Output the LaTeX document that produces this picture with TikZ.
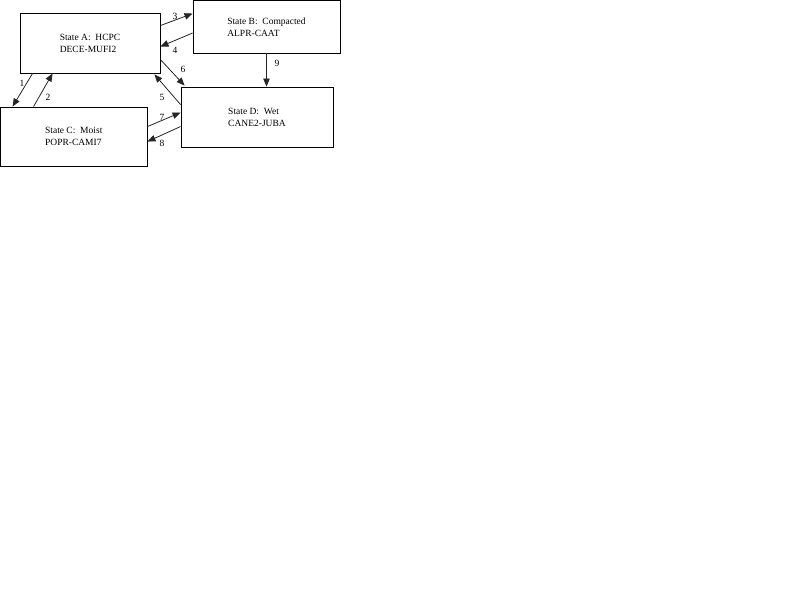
\documentclass[tikz,border=0pt]{standalone}
\usepackage{fontspec}
\setmainfont{Liberation Serif}
\usetikzlibrary{arrows.meta,calc}
\begin{document}
\begin{tikzpicture}[x=1pt,y=-1pt,
  statebox/.style={draw=black,line width=0.9pt,rectangle,inner sep=0pt,align=left,
    font=\fontsize{9.5}{12}\selectfont},
  conn/.style={draw=black!85,line width=0.8pt,-{Triangle[length=8pt,width=6.5pt]}},
  lbl/.style={font=\fontsize{9.5}{12}\selectfont,inner sep=0pt}]
\useasboundingbox[fill=white] (0,0) rectangle (800,600);
\node[statebox,minimum width=140pt,minimum height=60pt] (A) at (90,43) {State A:\ \ HCPC\\DECE-MUFI2};
\node[statebox,minimum width=147pt,minimum height=52.5pt] (B) at (266.5,26.75) {State B:\ \ Compacted\\ALPR-CAAT};
\node[statebox,minimum width=146.5pt,minimum height=59pt] (C) at (73.75,136.5) {State C:\ \ Moist\\POPR-CAMI7};
\node[statebox,minimum width=152pt,minimum height=60pt] (D) at (257,117) {State D:\ \ Wet\\CANE2-JUBA};
% connectors
\draw[conn] ($(A.south west)+(13,0)$) -- ($(C.north west)+(12.5,0)$);
\draw[conn] ($(C.north west)+(33.5,0)$) -- ($(A.south west)+(33,0)$);
\draw[conn] ($(A.north east)+(0,13)$) -- ($(B.north west)+(0,13.5)$);
\draw[conn] ($(B.north west)+(0,33)$) -- ($(A.north east)+(0,34)$);
\draw[conn] ($(A.north east)+(0,47)$) -- ($(D.north west)+(4,-1)$);
\draw[conn] ($(D.north west)+(0,18)$) -- ($(A.south east)+(-6,1)$);
\draw[conn] ($(C.north east)+(0,20)$) -- ($(D.north west)+(0,26)$);
\draw[conn] ($(D.north west)+(0,40)$) -- ($(C.north east)+(0,35)$);
\draw[conn] (B.south) -- (B.south |- D.north);
% labels
\node[lbl] (l1) at (22,83) {1};
\node[lbl] (l2) at (48,97) {2};
\node[lbl] (l3) at (175,16) {3};
\node[lbl] (l4) at (175,50) {4};
\node[lbl] (l5) at (162,97) {5};
\node[lbl] (l6) at (183,69) {6};
\node[lbl] (l7) at (162,117) {7};
\node[lbl] (l8) at (162,143) {8};
\node[lbl] (l9) at (277,63) {9};
\end{tikzpicture}
\end{document}
